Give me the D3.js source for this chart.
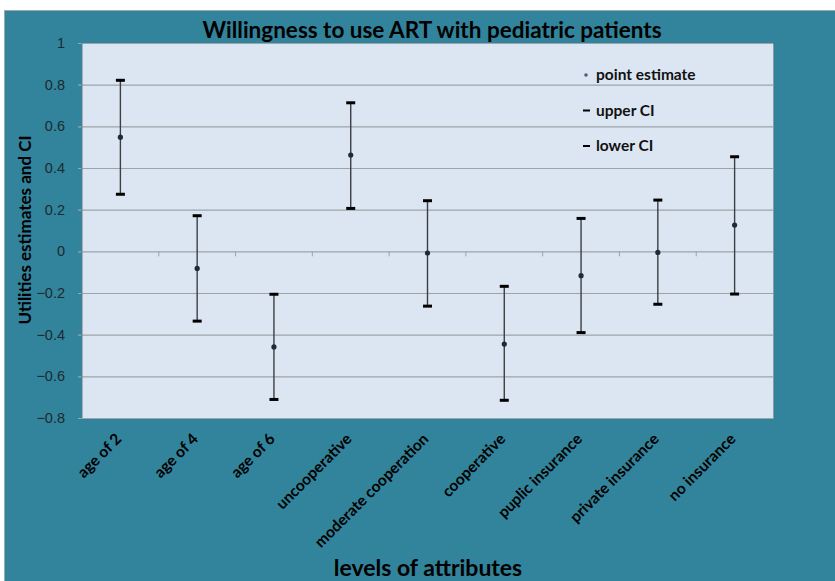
<!DOCTYPE html>
<html>
<head>
<meta charset="utf-8">
<script src="https://cdn.jsdelivr.net/npm/d3@7"></script>
<style>
  body { margin: 0; background: #fff; }
  svg { display: block; font-family: Lato, "Open Sans", sans-serif; }
</style>
</head>
<body>
<div id="chart"></div>
<script>
var categories = ["age of 2", "age of 4", "age of 6", "uncooperative", "moderate cooperation",
                  "cooperative", "puplic insurance", "private insurance", "no insurance"];
var pointEstimate = [0.548, -0.082, -0.459, 0.462, -0.008, -0.445, -0.117, -0.005, 0.126];
var upperCI = [0.821, 0.171, -0.206, 0.713, 0.243, -0.168, 0.158, 0.246, 0.454];
var lowerCI = [0.274, -0.335, -0.711, 0.206, -0.263, -0.715, -0.390, -0.254, -0.205];
var yTicks = [1, 0.8, 0.6, 0.4, 0.2, 0, -0.2, -0.4, -0.6, -0.8];
var legendItems = ["point estimate", "upper CI", "lower CI"];

var width = 835, height = 581;
var plot = { left: 82, top: 43, right: 773, bottom: 418 };

var svg = d3.select("#chart").append("svg")
            .attr("width", width)
            .attr("height", height);

// teal chart background
svg.append("rect")
   .attr("x", 4.5).attr("y", 10.5)
   .attr("width", width - 4).attr("height", height - 10)
   .style("fill", "#31849b")
   .style("stroke", "#9aa9ad")
   .style("stroke-width", 1);

var x = d3.scaleBand()
          .domain(categories)
          .range([plot.left, plot.right]);

var y = d3.scaleLinear()
          .domain([-0.8, 1])
          .range([plot.bottom, plot.top]);

// plot area
svg.append("rect")
   .attr("x", plot.left + 1).attr("y", plot.top + 1)
   .attr("width", plot.right - plot.left).attr("height", plot.bottom - plot.top)
   .style("fill", "#8a9ba5");
svg.append("rect")
   .attr("x", plot.left).attr("y", plot.top)
   .attr("width", plot.right - plot.left).attr("height", plot.bottom - plot.top)
   .style("fill", "#dce6f2");

// y axis with gridlines
var yAxis = svg.append("g")
   .attr("transform", "translate(" + plot.left + ",0)")
   .call(d3.axisLeft(y)
           .tickValues(yTicks)
           .tickSize(-(plot.right - plot.left))
           .tickPadding(17)
           .tickFormat(d3.format("")));
yAxis.select(".domain").remove();
yAxis.selectAll("line")
     .attr("x1", -4)
     .style("stroke", "#9da3a8")
     .style("stroke-width", 1.2);
yAxis.selectAll("text")
     .style("font-size", "14.5px")
     .style("fill", "#1c2a30");

// left edge of plot area
svg.append("line")
   .attr("x1", plot.left).attr("x2", plot.left)
   .attr("y1", plot.top).attr("y2", plot.bottom)
   .style("stroke", "#5f7f8a").style("stroke-width", 1);

// category separators along zero
svg.selectAll("line.sep")
   .data(categories.slice(1))
   .enter()
   .append("line")
   .attr("class", "sep")
   .attr("x1", function (d) { return x(d); })
   .attr("x2", function (d) { return x(d); })
   .attr("y1", y(0)).attr("y2", y(0) + 5)
   .style("stroke", "#9da3a8")
   .style("stroke-width", 1);

// error bars
var bars = svg.selectAll("g.bar")
              .data(categories)
              .enter()
              .append("g")
              .attr("class", "bar");

bars.append("line")
    .attr("x1", function (d) { return x(d) + x.bandwidth() / 2; })
    .attr("x2", function (d) { return x(d) + x.bandwidth() / 2; })
    .attr("y1", function (d, i) { return y(upperCI[i]); })
    .attr("y2", function (d, i) { return y(lowerCI[i]); })
    .style("stroke", "#3a3f44")
    .style("stroke-width", 1.4);

bars.append("line")
    .attr("x1", function (d) { return x(d) + x.bandwidth() / 2 - 4.5; })
    .attr("x2", function (d) { return x(d) + x.bandwidth() / 2 + 4.5; })
    .attr("y1", function (d, i) { return y(upperCI[i]); })
    .attr("y2", function (d, i) { return y(upperCI[i]); })
    .style("stroke", "#000")
    .style("stroke-width", 3);

bars.append("line")
    .attr("x1", function (d) { return x(d) + x.bandwidth() / 2 - 4.5; })
    .attr("x2", function (d) { return x(d) + x.bandwidth() / 2 + 4.5; })
    .attr("y1", function (d, i) { return y(lowerCI[i]); })
    .attr("y2", function (d, i) { return y(lowerCI[i]); })
    .style("stroke", "#000")
    .style("stroke-width", 3);

bars.append("circle")
    .attr("cx", function (d) { return x(d) + x.bandwidth() / 2; })
    .attr("cy", function (d, i) { return y(pointEstimate[i]); })
    .attr("r", 2.6)
    .style("fill", "#1e2a38");

// legend
var legend = svg.selectAll("g.legend")
                .data(legendItems)
                .enter()
                .append("g")
                .attr("class", "legend")
                .attr("transform", function (d, i) { return "translate(583," + (75 + i * 35.5) + ")"; });

legend.each(function (d, i) {
  var g = d3.select(this);
  if (i === 0) {
    g.append("circle").attr("cx", 3).attr("cy", 0).attr("r", 1.8).style("fill", "#4a5f7a");
  } else {
    g.append("line").attr("x1", 0).attr("x2", 7).attr("y1", 0).attr("y2", 0)
     .style("stroke", "#000").style("stroke-width", 2);
  }
});
legend.append("text")
      .attr("x", 13)
      .attr("y", 5)
      .text(function (d) { return d; })
      .style("font-size", "15.5px")
      .style("font-weight", "bold")
      .style("fill", "#111");

// category labels
svg.selectAll("text.cat")
   .data(categories)
   .enter()
   .append("text")
   .attr("class", "cat")
   .attr("transform", function (d) {
     return "translate(" + (x(d) + x.bandwidth() / 2 + 2) + ",440) rotate(-45)";
   })
   .attr("text-anchor", "end")
   .text(function (d) { return d; })
   .style("font-size", "15.5px")
   .style("font-weight", "bold")
   .style("fill", "#000");

// titles
svg.append("text")
   .attr("x", 432).attr("y", 38)
   .attr("text-anchor", "middle")
   .text("Willingness to use ART with pediatric patients")
   .style("font-size", "22.5px")
   .style("font-weight", "bold")
   .style("fill", "#000");

svg.append("text")
   .attr("transform", "translate(31,230) rotate(-90)")
   .attr("text-anchor", "middle")
   .text("Utilities estimates and CI")
   .style("font-size", "17px")
   .style("font-weight", "bold")
   .style("fill", "#000");

svg.append("text")
   .attr("x", 428).attr("y", 576)
   .attr("text-anchor", "middle")
   .text("levels of attributes")
   .style("font-size", "23px")
   .style("font-weight", "bold")
   .style("fill", "#000");
</script>
</body>
</html>
